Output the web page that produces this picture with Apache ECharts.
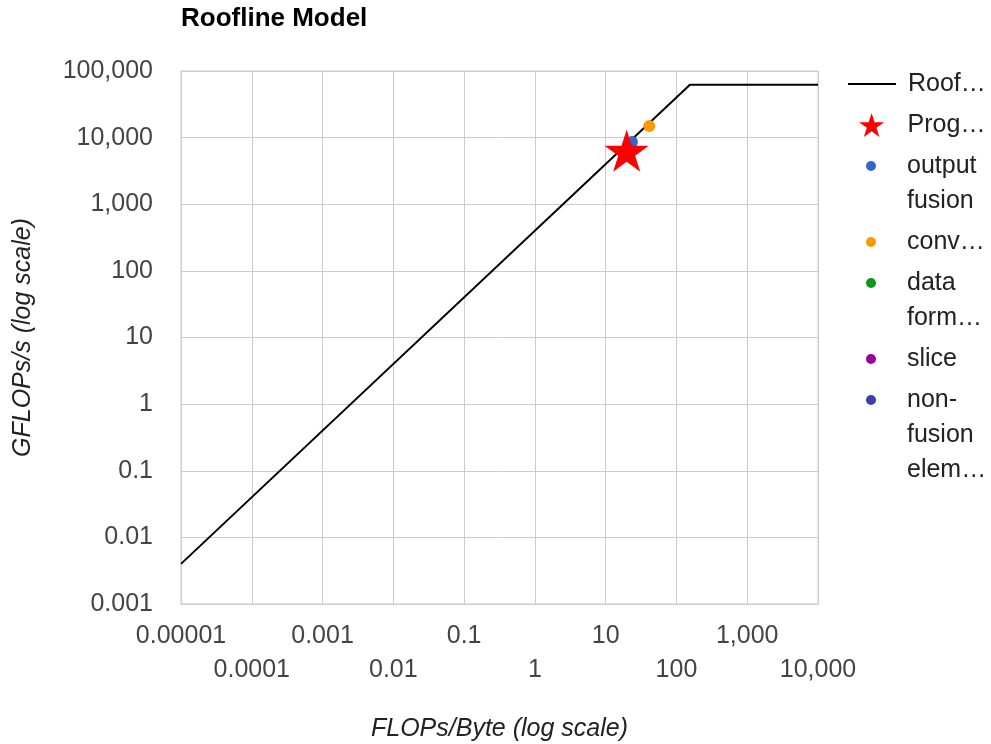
<!DOCTYPE html>
<html>
<head>
<meta charset="utf-8">
<script src="https://cdn.jsdelivr.net/npm/echarts@6/dist/echarts.min.js"></script>
<style>
  html, body { margin: 0; padding: 0; background: #fff; }
  #chart { width: 991px; height: 744px; }
</style>
</head>
<body>
<div id="chart"></div>
<script>
// roofline: memory-bound slope up to the ridge, then flat compute peak
const roofX = [0.00001, 155, 10000];
const roofY = [0.004, 62000, 62000];

const seriesNames = ["Roofline", "Program", "output fusion", "convolution", "data formatting", "slice", "non-fusion elementwise"];
const seriesColors = ["#000000", "#ff0000", "#3366cc", "#ff9900", "#109618", "#990099", "#3b3eac"];

// [FLOPs/Byte, GFLOPs/s]
const programPoints = [[19.8, 6360]];
const outputFusionPoints = [[23.5, 8600]];
const convolutionPoints = [[41.3, 14900]];
const dataFormattingPoints = [];
const slicePoints = [];
const nonFusionPoints = [];

const xMin = 0.00001, xMax = 10000;
const yMin = 0.001, yMax = 100000;

const FONT = "'Liberation Sans', Arial, sans-serif";
const STAR = "path://M50,0 L61.23,34.55 L97.55,34.55 L68.16,55.9 L79.39,90.45 L50,69.1 L20.61,90.45 L31.84,55.9 L2.45,34.55 L38.77,34.55 Z";
const LINE_ICON = "path://M0,0 L48,0 L48,2 L0,2 Z";
const LH = 35;

const fmt = (v) => Number(v).toLocaleString("en-US", { maximumFractionDigits: 6 });
const wrap = (name) => name.replace(/-/g, "-\n").replace(/ /g, "\n").split("\n");
// x labels alternate between two rows
const xRow = (v) => Math.round(Math.log10(v / xMin)) % 2;

const chart = echarts.init(document.getElementById("chart"));

const roofData = roofX.map((x, i) => [x, roofY[i]]);
const pointSets = [programPoints, outputFusionPoints, convolutionPoints, dataFormattingPoints, slicePoints, nonFusionPoints];

const series = [
  {
    name: seriesNames[0],
    type: "line",
    data: roofData,
    symbol: "none",
    lineStyle: { color: seriesColors[0], width: 2 },
    itemStyle: { color: seriesColors[0] },
    z: 2,
  },
];
pointSets.forEach((pts, k) => {
  const i = k + 1;
  series.push({
    name: seriesNames[i],
    type: "scatter",
    data: pts,
    symbol: i === 1 ? STAR : "circle",
    symbolKeepAspect: true,
    symbolSize: i === 1 ? 44 : 12,
    itemStyle: { color: seriesColors[i], opacity: 1 },
    z: i === 1 ? 5 : 3,
  });
});

// one legend per entry so the icon sits on the first text line
let cy = 84;
const legends = seriesNames.map((name, i) => {
  const lines = wrap(name);
  const n = lines.length;
  const lg = {
    orient: "vertical",
    left: i === 0 ? 848 : (i === 1 ? 859 : 866),
    top: cy - (2 * n - 1) * LH / 2,
    padding: 0,
    itemWidth: 48,
    itemHeight: i <= 1 ? 24 : 10,
    data: [{ name: name, icon: i === 0 ? LINE_ICON : (i === 1 ? STAR : "circle") }],
    formatter: () => "\n".repeat(n - 1) + lines.join("\n"),
    textStyle: {
      fontFamily: FONT,
      fontSize: 25,
      lineHeight: LH,
      color: "#222222",
      width: 82,
      overflow: "truncate",
      ellipsis: "…",
      padding: [0, 0, 0, 7],
    },
    selectedMode: false,
  };
  cy += n * LH + 6;
  return lg;
});

const xLabel = {
  fontFamily: FONT,
  fontSize: 25,
  lineHeight: 34,
  color: "#444444",
};

const option = {
  animation: false,
  backgroundColor: "#ffffff",
  title: {
    text: "Roofline Model",
    left: 181,
    top: 6,
    padding: 0,
    textStyle: { fontFamily: FONT, fontSize: 26, fontWeight: "bold", color: "#000000" },
  },
  legend: legends,
  grid: {
    left: 181,
    right: 173,
    top: 71,
    bottom: 140,
    show: true,
    borderColor: "#cccccc",
    borderWidth: 1,
    outerBoundsMode: "none",
  },
  xAxis: [
    {
      type: "log",
      logBase: 10,
      min: xMin,
      max: xMax,
      interval: 1,
      position: "bottom",
      name: "FLOPs/Byte (log scale)",
      nameLocation: "middle",
      nameGap: 113,
      nameMoveOverlap: false,
      nameTextStyle: { fontFamily: FONT, fontSize: 25, fontStyle: "italic", color: "#222222" },
      axisLine: { show: true, lineStyle: { color: "#cccccc" } },
      axisTick: { show: false },
      splitLine: { show: true, lineStyle: { color: "#cccccc", width: 1 } },
      axisLabel: Object.assign({}, xLabel, {
        margin: 15,
        showMinLabel: true,
        showMaxLabel: false,
        formatter: (v) => (xRow(v) ? "" : fmt(v)),
      }),
    },
    {
      type: "log",
      logBase: 10,
      min: xMin,
      max: xMax,
      interval: 1,
      position: "bottom",
      axisLine: { show: false },
      axisTick: { show: false },
      splitLine: { show: false },
      axisLabel: Object.assign({}, xLabel, {
        margin: 49,
        showMinLabel: false,
        showMaxLabel: true,
        formatter: (v) => (xRow(v) ? fmt(v) : ""),
      }),
    },
  ],
  yAxis: {
    type: "log",
    logBase: 10,
    min: yMin,
    max: yMax,
    interval: 1,
    name: "GFLOPs/s (log scale)",
    nameLocation: "middle",
    nameGap: 145,
    nameMoveOverlap: false,
    nameTextStyle: { fontFamily: FONT, fontSize: 25, fontStyle: "italic", color: "#222222" },
    axisLine: { show: true, lineStyle: { color: "#cccccc" } },
    axisTick: { show: false },
    splitLine: { show: true, lineStyle: { color: "#cccccc", width: 1 } },
    axisLabel: {
      fontFamily: FONT,
      fontSize: 25,
      color: "#444444",
      margin: 28,
      showMinLabel: true,
      showMaxLabel: true,
      formatter: (v) => fmt(v),
    },
  },
  series: series,
};

chart.setOption(option);
</script>
</body>
</html>
